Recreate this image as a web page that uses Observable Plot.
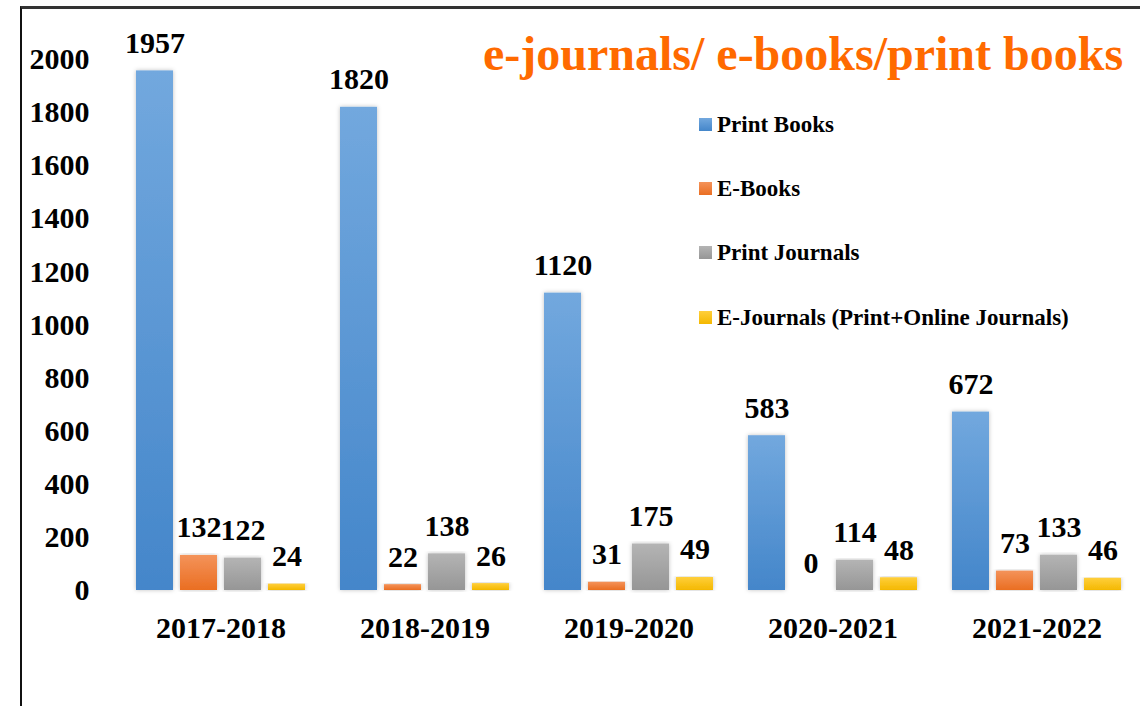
<!DOCTYPE html>
<html><head><meta charset="utf-8">
<script src="https://cdn.jsdelivr.net/npm/d3@7"></script>
<script src="https://cdn.jsdelivr.net/npm/@observablehq/plot@0.6"></script>
<style>
body{margin:0;background:#fff;}
#wrap{position:relative;width:1140px;height:706px;overflow:hidden;font-family:"Liberation Serif","Times New Roman",serif;font-weight:bold;background:#fff;}
#frame{position:absolute;left:20px;top:6px;width:1140px;height:720px;border-top:3px solid #333;border-left:2px solid #111;pointer-events:none;}
#chart{position:absolute;left:0;top:0;}
#title{position:absolute;left:483px;top:30px;font-size:48px;line-height:48px;color:#ff6a00;white-space:nowrap;}
.lg-sq{position:absolute;width:13px;height:13px;}
.lg-tx{position:absolute;font-size:23px;line-height:23px;color:#000;white-space:nowrap;}
</style></head>
<body>
<div id="wrap">
  <div id="chart"></div>
  <div id="frame"></div>
  <div id="title">e-journals/ e-books/print books</div>
</div>
<script>
const years = ["2017-2018","2018-2019","2019-2020","2020-2021","2021-2022"];
const seriesNames = ["Print Books","E-Books","Print Journals","E-Journals (Print+Online Journals)"];
const printBooks = [1957,1820,1120,583,672];
const eBooks = [132,22,31,0,73];
const printJournals = [122,138,175,114,133];
const eJournals = [24,26,49,48,46];
const yTicks = [0,200,400,600,800,1000,1200,1400,1600,1800,2000];

const gradTop = ["#72a8de","#f4935a","#b4b4b4","#ffcf3c"];
const gradBottom = ["#4486ca","#ea6e22","#969696","#f4b800"];
const gradIds = ["gPB","gEB","gPJ","gEJ"];

const seriesValues = [printBooks, eBooks, printJournals, eJournals];
const data = [];
years.forEach((y, i) => seriesNames.forEach((s, j) => data.push({year: y, series: s, value: seriesValues[j][i]})));

const chart = Plot.plot({
  width: 1140,
  height: 706,
  marginLeft: 117,
  marginRight: 0,
  marginTop: 59,
  marginBottom: 116,
  style: {fontFamily: "'Liberation Serif', 'Times New Roman', serif", fontWeight: "bold", fontSize: "30px", background: "transparent", color: "#000"},
  fx: {domain: years, paddingInner: 0.134, paddingOuter: 0.067, label: null, axis: null},
  x: {domain: seriesNames, paddingInner: 0.16, paddingOuter: 0.08, axis: null},
  y: {domain: [0, 2000], axis: null},
  color: {domain: seriesNames, range: gradIds.map(id => `url(#${id})`)},
  marks: [
    Plot.axisY(yTicks, {tickSize: 0, tickPadding: 43, tickFormat: d => String(d), fontSize: 30, fontWeight: "bold", label: null}),
    Plot.axisFx({anchor: "bottom", tickSize: 0, tickPadding: 26, fontSize: 30, fontWeight: "bold", label: null}),
    Plot.ruleY([0], {stroke: "#d9d9d9", strokeWidth: 2.5, insetLeft: -13.7, insetRight: -13.7}),
    Plot.barY(data, {fx: "year", x: "series", y: "value", fill: "series"}),
    Plot.text(data, {fx: "year", x: "series", y: "value", text: d => String(d.value), lineAnchor: "bottom", dy: -18, fontSize: 30, fontWeight: "bold", fill: "#000"})
  ]
});
document.getElementById("chart").appendChild(chart);

const svg = d3.select(chart);
const defs = svg.insert("defs", ":first-child");
gradIds.forEach((id, i) => {
  const g = defs.append("linearGradient").attr("id", id).attr("x1", 0).attr("y1", 0).attr("x2", 0).attr("y2", 1);
  g.append("stop").attr("offset", "0%").attr("stop-color", gradTop[i]);
  g.append("stop").attr("offset", "100%").attr("stop-color", gradBottom[i]);
});
const f = defs.append("filter").attr("id", "sh").attr("x", "-20%").attr("y", "-5%").attr("width", "140%").attr("height", "110%");
f.append("feDropShadow").attr("dx", 0).attr("dy", 0).attr("stdDeviation", 2).attr("flood-color", "#000").attr("flood-opacity", 0.25);
svg.selectAll("g[aria-label=bar] rect").attr("filter", "url(#sh)");
svg.selectAll("g[aria-label=rule] line").attr("filter", "url(#sh)");

// legend
const wrap = document.getElementById("wrap");
const legendCenters = [124.5, 188.5, 252.5, 317];
seriesNames.forEach((s, i) => {
  const sq = document.createElement("div");
  sq.className = "lg-sq";
  sq.style.left = "699px";
  sq.style.top = (legendCenters[i] - 6.5) + "px";
  sq.style.background = `linear-gradient(${gradTop[i]}, ${gradBottom[i]})`;
  wrap.appendChild(sq);
  const tx = document.createElement("div");
  tx.className = "lg-tx";
  tx.style.left = "717px";
  tx.style.top = (legendCenters[i] + 8 - 19.3) + "px";
  tx.textContent = s;
  wrap.appendChild(tx);
});
</script>
</body></html>
